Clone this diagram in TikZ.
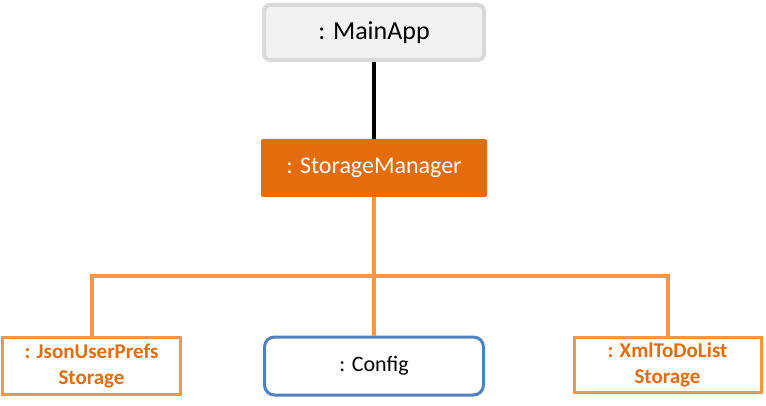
\documentclass[tikz,border=0pt]{standalone}
\usepackage{fontspec}
\setmainfont{Carlito}
\definecolor{boxgray}{HTML}{F2F2F2}
\definecolor{bordergray}{HTML}{D9D9D9}
\definecolor{darkorange}{HTML}{E46C0A}
\definecolor{lightorange}{HTML}{F79646}
\definecolor{cfgblue}{HTML}{4F81BD}
\begin{document}
\begin{tikzpicture}[x=1pt,y=-1pt,
  mainbox/.style={draw=bordergray,fill=boxgray,line width=4pt,rounded corners=6pt,
    minimum width=220pt,minimum height=55pt,inner sep=0pt,
    font=\fontsize{26}{30}\selectfont},
  smbox/.style={fill=darkorange,rounded corners=2pt,minimum width=226pt,minimum height=58pt,
    inner sep=0pt,text=white,font=\fontsize{24}{28}\selectfont},
  storebox/.style={draw=lightorange,fill=white,line width=3pt,inner sep=0pt,
    text=darkorange,align=center,font=\bfseries\fontsize{21}{26}\selectfont},
  cfgbox/.style={draw=cfgblue,fill=white,line width=3pt,rounded corners=10pt,
    minimum width=219pt,minimum height=58pt,inner sep=0pt,font=\fontsize{22}{26}\selectfont},
  blackline/.style={line width=4pt,black},
  orangeline/.style={line width=4pt,lightorange}]
\useasboundingbox (0,0) rectangle (766,406);
\node[mainbox] (main) at (374,32.5) {: MainApp};
\node[smbox] (sm) at (374,168) {: StorageManager};
\node[storebox,minimum width=178pt,minimum height=57pt] (json) at (91.5,365.5) {: JsonUserPrefs\\Storage};
\node[cfgbox] (cfg) at (374,366) {: Config};
\node[storebox,minimum width=187pt,minimum height=55pt] (xml) at (667.5,365) {: XmlToDoList\\Storage};
\coordinate (j) at (374,276);
\draw[blackline] (main.south) -- (sm.north);
\draw[orangeline] (sm.south) -- (cfg.north);
\draw[orangeline] (json.north) |- (j) -| (xml.north);
\end{tikzpicture}
\end{document}
